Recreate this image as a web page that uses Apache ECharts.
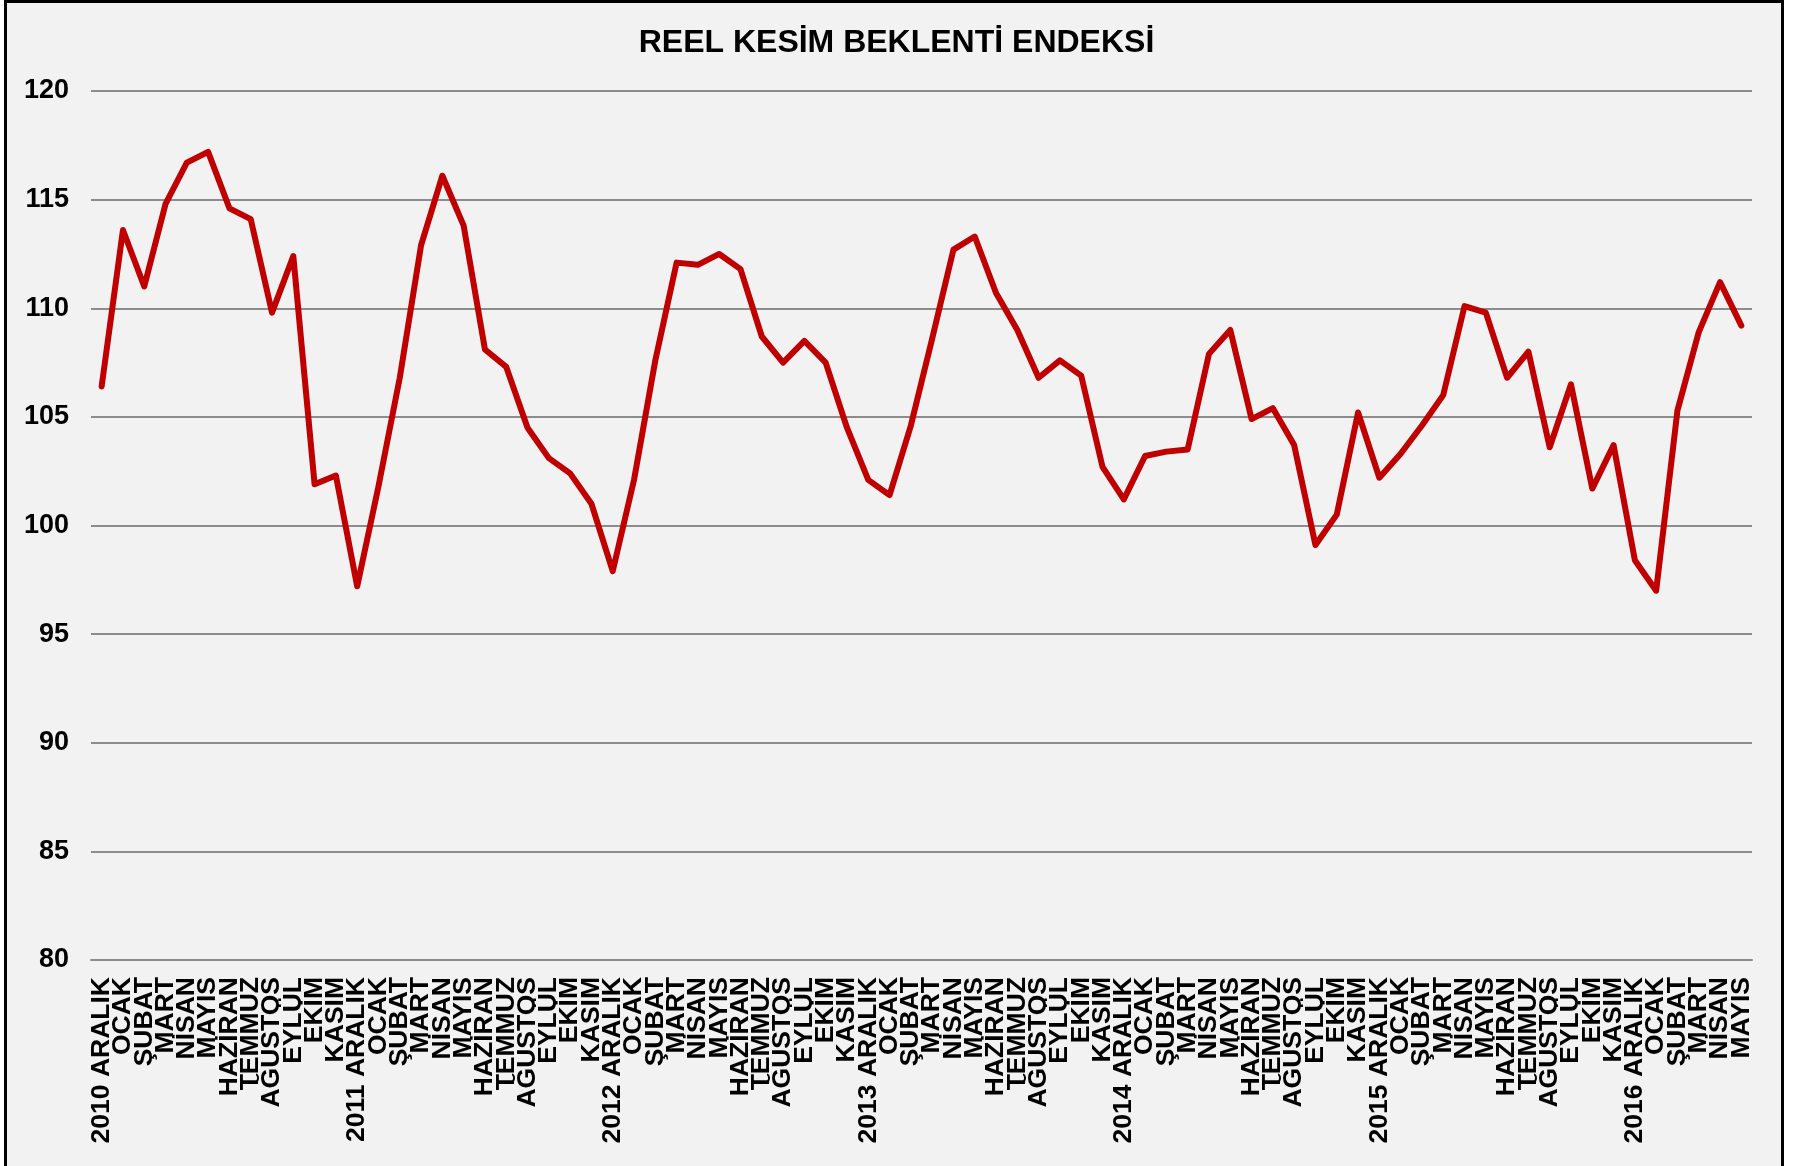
<!DOCTYPE html>
<html>
<head>
<meta charset="utf-8">
<title>Reel Kesim Beklenti Endeksi</title>
<script src="https://cdn.jsdelivr.net/npm/echarts@6/dist/echarts.min.js"></script>
<style>
    body { margin: 0; background: #ffffff; overflow: hidden; }
    #frame { position: absolute; left: 4px; top: 0px; width: 1774px; height: 1200px;
             border: 3px solid #000000; background: #f2f2f2; }
    #echart_line { position: absolute; left: 0px; top: 0px; width: 1793px; height: 1166px; }
</style>
</head>
<body>
<div id="frame"></div>
<div id="echart_line"></div>
<script>
// month order used by the source: each year block starts with ARALIK
var monthNames = ['ARALIK', 'OCAK', 'ŞUBAT', 'MART', 'NİSAN', 'MAYIS',
    'HAZİRAN', 'TEMMUZ', 'AĞUSTOS', 'EYLÜL', 'EKİM', 'KASIM'];
var years = [2010, 2011, 2012, 2013, 2014, 2015, 2016];

var yAxisTicks = [80, 85, 90, 95, 100, 105, 110, 115, 120];

var indexValues = [
    106.4, 113.6, 111.0, 114.8, 116.7, 117.2, 114.6, 114.1, 109.8, 112.4, 101.9, 102.3,
    97.2, 101.8, 106.8, 112.9, 116.1, 113.8, 108.1, 107.3, 104.5, 103.1, 102.4, 101.0,
    97.9, 102.1, 107.6, 112.1, 112.0, 112.5, 111.8, 108.7, 107.5, 108.5, 107.5, 104.5,
    102.1, 101.4, 104.6, 108.6, 112.7, 113.3, 110.7, 109.0, 106.8, 107.6, 106.9, 102.7,
    101.2, 103.2, 103.4, 103.5, 107.9, 109.0, 104.9, 105.4, 103.7, 99.1, 100.5, 105.2,
    102.2, 103.3, 104.6, 106.0, 110.1, 109.8, 106.8, 108.0, 103.6, 106.5, 101.7, 103.7,
    98.4, 97.0, 105.3, 108.9, 111.2, 109.2
];

function buildCategories() {
    var cats = [];
    for (var i = 0; i < indexValues.length; i++) {
        var m = i % 12;
        if (m == 0) {
            cats.push(years[i / 12] + ' ' + monthNames[m]);
        } else {
            cats.push(monthNames[m]);
        }
    }
    return cats;
}

function createIndexLineChart(xAxis, yAxis) {
    var echartLine = echarts.init(document.getElementById('echart_line'));
    var fontName = "'Liberation Sans', Arial, sans-serif";

    echartLine.setOption({
        backgroundColor: 'transparent',
        animation: false,
        title: {
            text: 'REEL KESİM BEKLENTİ ENDEKSİ',
            left: 'center',
            top: 22,
            textStyle: {
                fontFamily: fontName,
                fontWeight: 'bold',
                fontSize: 32,
                color: '#000000'
            }
        },
        grid: {
            left: 91,
            right: 41,
            top: 91,
            bottom: 206,
            containLabel: false
        },
        xAxis: [{
            type: 'category',
            data: xAxis,
            boundaryGap: true,
            axisLine: { show: true, lineStyle: { color: '#8c8c8c', width: 2 } },
            axisTick: { show: false },
            axisLabel: {
                interval: 0,
                rotate: 90,
                margin: 17,
                fontFamily: fontName,
                fontWeight: 'bold',
                fontSize: 26.5,
                color: '#000000'
            }
        }],
        yAxis: [{
            type: 'value',
            min: yAxisTicks[0],
            max: yAxisTicks[yAxisTicks.length - 1],
            interval: 5,
            axisLine: { show: false },
            axisTick: { show: false },
            splitLine: { show: true, lineStyle: { color: '#8c8c8c', width: 2 } },
            axisLabel: {
                margin: 22,
                fontFamily: fontName,
                fontWeight: 'bold',
                fontSize: 27,
                color: '#000000'
            }
        }],
        series: [{
            name: 'Reel Kesim Beklenti Endeksi',
            type: 'line',
            data: yAxis,
            symbol: 'none',
            lineStyle: { color: '#c00000', width: 6, cap: 'round', join: 'round' }
        }]
    });
}

createIndexLineChart(buildCategories(), indexValues);
</script>
</body>
</html>
